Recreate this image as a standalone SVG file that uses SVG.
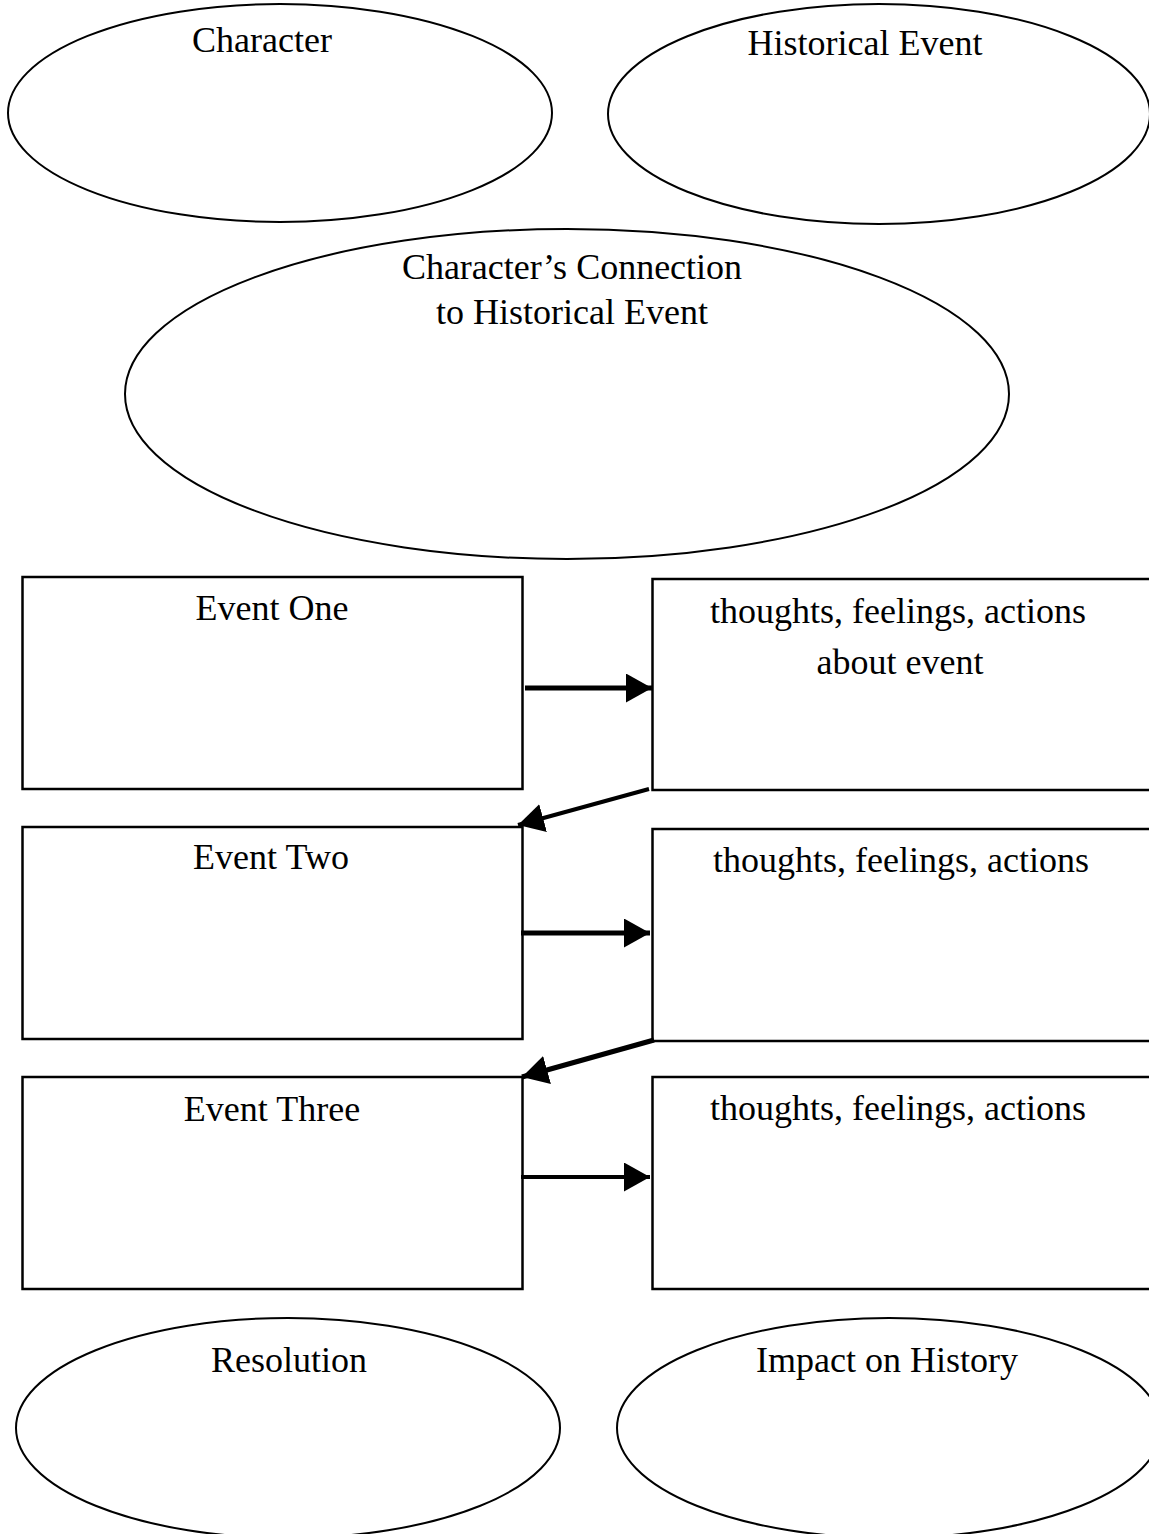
<svg xmlns="http://www.w3.org/2000/svg" width="1149" height="1534" viewBox="0 0 1149 1534">
  <style>
    .shape { fill: #ffffff; stroke: #000000; stroke-width: 2; }
    .box { fill: #ffffff; stroke: #000000; stroke-width: 2.5; }
    .label { font-family: "Liberation Serif", "Times New Roman", serif; font-size: 36px; fill: #000000; text-anchor: middle; }
    .conn { stroke: #000000; fill: none; }
  </style>
  <defs>
    <marker id="head" markerUnits="userSpaceOnUse" markerWidth="26" markerHeight="30" refX="26" refY="14.5" orient="auto">
      <path d="M0,0 L26,14.5 L0,29 Z" fill="#000000"/>
    </marker>
  </defs>
  <rect x="0" y="0" width="1149" height="1534" fill="#ffffff"/>

  <g id="node-character">
    <ellipse class="shape" cx="280" cy="113" rx="272" ry="109"/>
    <text class="label" x="262" y="52">Character</text>
  </g>
  <g id="node-historical-event">
    <ellipse class="shape" cx="879" cy="114" rx="271" ry="110"/>
    <text class="label" x="865" y="55">Historical Event</text>
  </g>
  <g id="node-connection">
    <ellipse class="shape" cx="567" cy="394" rx="442" ry="165"/>
    <text class="label" x="572" y="279">Character’s Connection</text>
    <text class="label" x="572" y="324">to Historical Event</text>
  </g>

  <g id="node-event-one">
    <rect class="box" x="22.5" y="577" width="500" height="212"/>
    <text class="label" x="272" y="620">Event One</text>
  </g>
  <g id="node-thoughts-one">
    <rect class="box" x="652.5" y="579" width="500" height="211"/>
    <text class="label" x="898" y="623">thoughts, feelings, actions</text>
    <text class="label" x="900" y="674">about event</text>
  </g>
  <g id="node-event-two">
    <rect class="box" x="22.5" y="827" width="500" height="212"/>
    <text class="label" x="271" y="869">Event Two</text>
  </g>
  <g id="node-thoughts-two">
    <rect class="box" x="652.5" y="829" width="500" height="212"/>
    <text class="label" x="901" y="872">thoughts, feelings, actions</text>
  </g>
  <g id="node-event-three">
    <rect class="box" x="22.5" y="1077" width="500" height="212"/>
    <text class="label" x="272" y="1121">Event Three</text>
  </g>
  <g id="node-thoughts-three">
    <rect class="box" x="652.5" y="1077" width="500" height="212"/>
    <text class="label" x="898" y="1120">thoughts, feelings, actions</text>
  </g>

  <g id="node-resolution">
    <ellipse class="shape" cx="288" cy="1428" rx="272" ry="110"/>
    <text class="label" x="289" y="1372">Resolution</text>
  </g>
  <g id="node-impact">
    <ellipse class="shape" cx="889" cy="1428" rx="272" ry="110"/>
    <text class="label" x="887" y="1372">Impact on History</text>
  </g>

  <g id="connectors">
    <line class="conn" x1="525" y1="688" x2="652" y2="688" stroke-width="5" marker-end="url(#head)"/>
    <line class="conn" x1="649" y1="789" x2="518" y2="825" stroke-width="4" marker-end="url(#head)"/>
    <line class="conn" x1="521" y1="933" x2="650" y2="933" stroke-width="5" marker-end="url(#head)"/>
    <line class="conn" x1="654" y1="1040" x2="522" y2="1077" stroke-width="5" marker-end="url(#head)"/>
    <line class="conn" x1="521" y1="1177" x2="650" y2="1177" stroke-width="4" marker-end="url(#head)"/>
  </g>
</svg>
